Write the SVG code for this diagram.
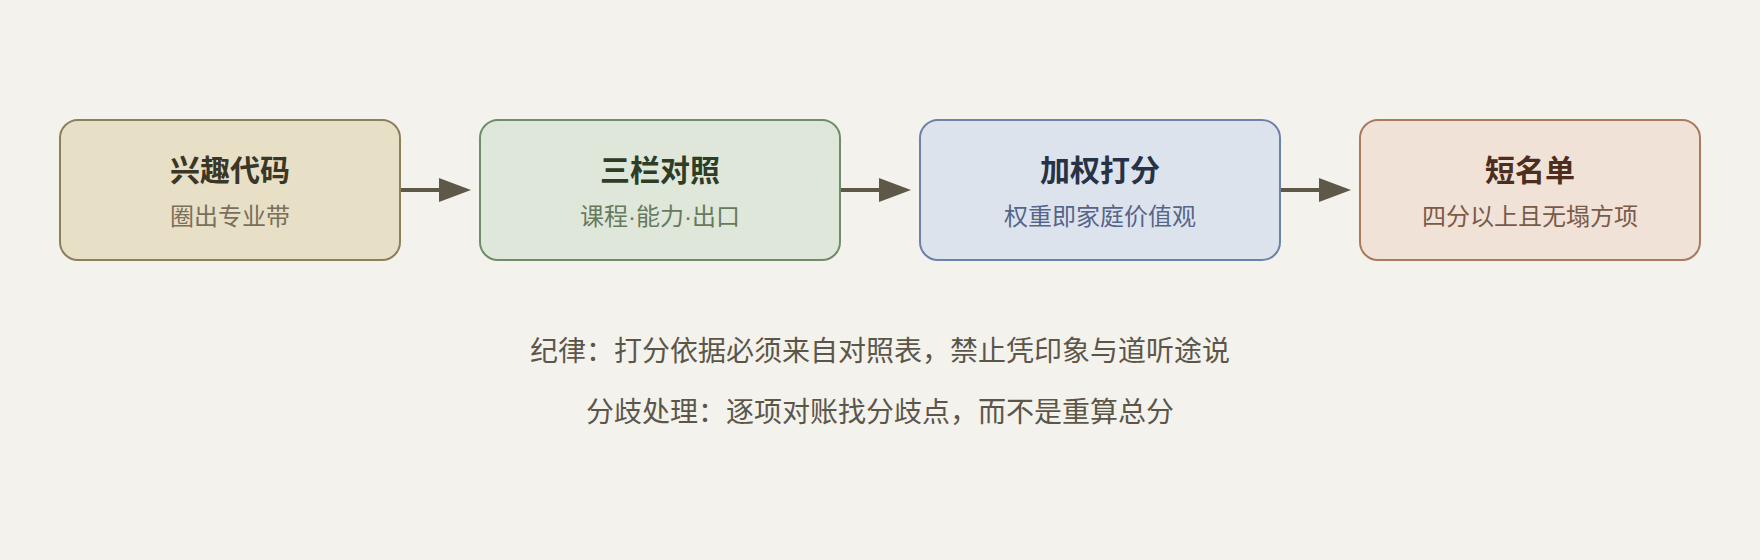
<svg xmlns="http://www.w3.org/2000/svg" width="1760" height="560" viewBox="0 0 1760 560">
  <style>
    text { font-family: "Liberation Sans", "Noto Sans CJK SC", sans-serif; text-anchor: middle; }
    .title { font-size: 30px; font-weight: bold; }
    .sub { font-size: 24px; }
    .note { font-size: 28px; fill: #5c5649; }
    .box { stroke-width: 2; }
    .conn { stroke: #5e5848; stroke-width: 4; fill: none; }
  </style>
  <defs>
    <marker id="arrow" viewBox="0 0 32 24" refX="1" refY="12" markerWidth="32" markerHeight="24" markerUnits="userSpaceOnUse" orient="auto">
      <path d="M0,0 L32,12 L0,24 Z" fill="#5e5848"/>
    </marker>
  </defs>
  <rect width="1760" height="560" fill="#f4f2ed"/>
  <g id="connectors">
    <line class="conn" x1="400" y1="190" x2="440" y2="190" marker-end="url(#arrow)"/>
    <line class="conn" x1="840" y1="190" x2="880" y2="190" marker-end="url(#arrow)"/>
    <line class="conn" x1="1280" y1="190" x2="1320" y2="190" marker-end="url(#arrow)"/>
  </g>
  <g id="node1">
    <rect class="box" x="60" y="120" width="340" height="140" rx="18" fill="#e8dfc7" stroke="#8c7f5c"/>
    <text class="title" x="230" y="181" fill="#3b3726">兴趣代码</text>
    <text class="sub" x="230" y="225" fill="#7a6f5a">圈出专业带</text>
  </g>
  <g id="node2">
    <rect class="box" x="480" y="120" width="360" height="140" rx="18" fill="#dfe7db" stroke="#6f8d68"/>
    <text class="title" x="660" y="181" fill="#2e3d25">三栏对照</text>
    <text class="sub" x="660" y="225" fill="#667a5c">课程·能力·出口</text>
  </g>
  <g id="node3">
    <rect class="box" x="920" y="120" width="360" height="140" rx="18" fill="#dde3ed" stroke="#6e81a9"/>
    <text class="title" x="1100" y="181" fill="#283246">加权打分</text>
    <text class="sub" x="1100" y="225" fill="#56658a">权重即家庭价值观</text>
  </g>
  <g id="node4">
    <rect class="box" x="1360" y="120" width="340" height="140" rx="18" fill="#f0e2d7" stroke="#a97a5b"/>
    <text class="title" x="1530" y="181" fill="#4d2e1e">短名单</text>
    <text class="sub" x="1530" y="225" fill="#7a5a48">四分以上且无塌方项</text>
  </g>
  <g id="notes">
    <text class="note" x="880" y="361">纪律：打分依据必须来自对照表，禁止凭印象与道听途说</text>
    <text class="note" x="880" y="422">分歧处理：逐项对账找分歧点，而不是重算总分</text>
  </g>
</svg>
